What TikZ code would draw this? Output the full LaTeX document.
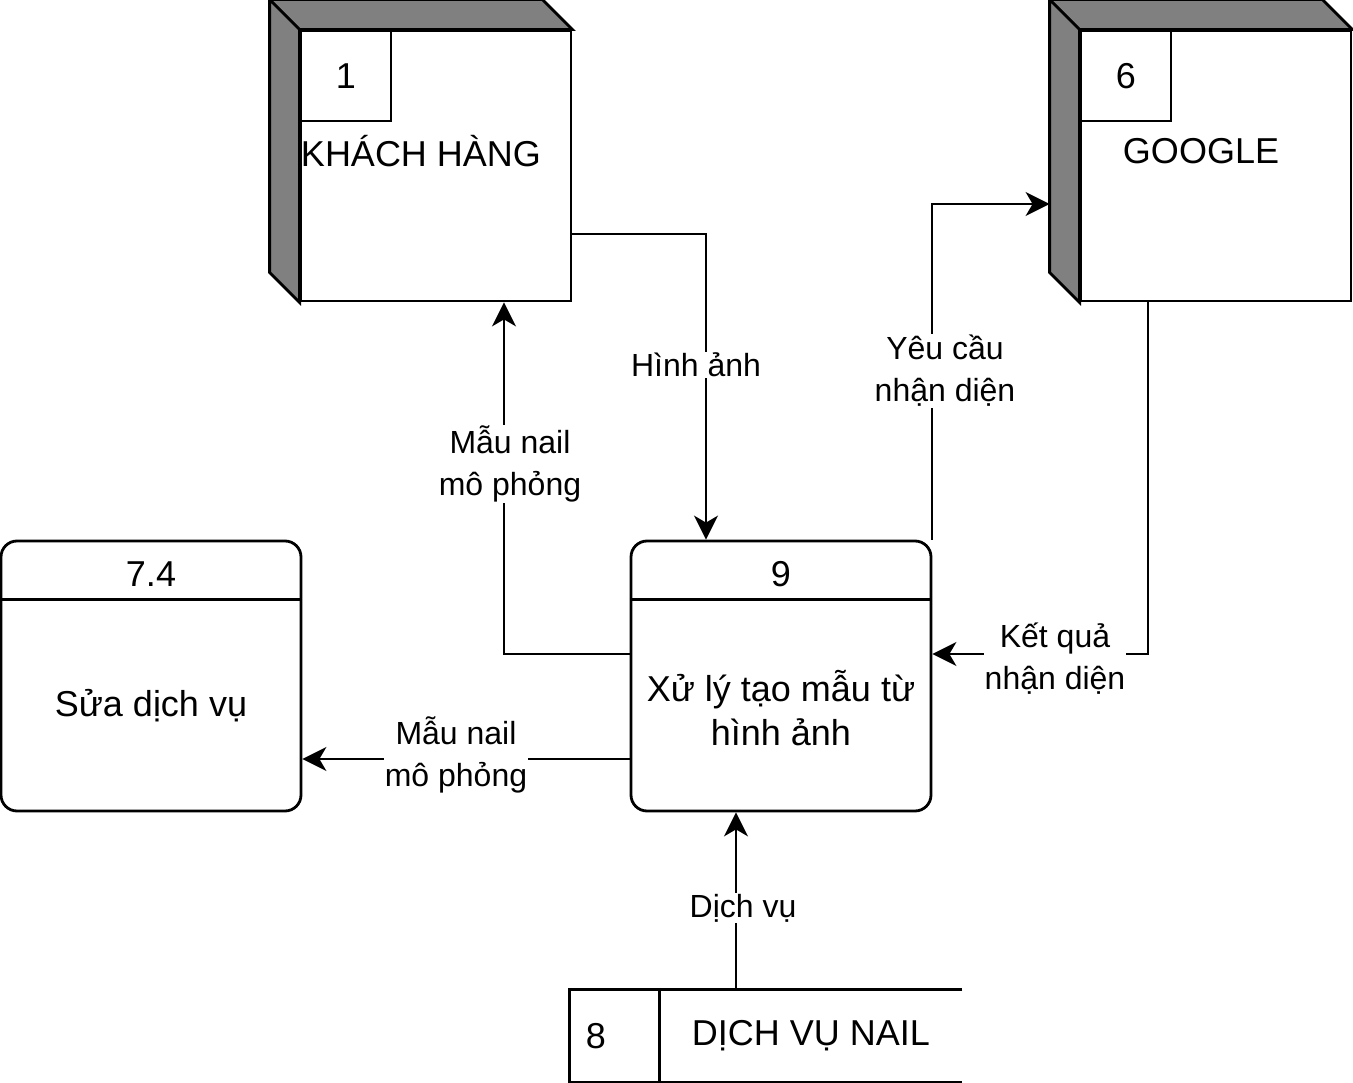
\documentclass[tikz,border=0pt]{standalone}
\usepackage{fontspec}
\setmainfont{Liberation Sans}
\usetikzlibrary{positioning,arrows.meta}
\begin{document}
\begin{tikzpicture}[x=1pt,y=-1pt,line width=2.8pt,
    big/.style={font=\fontsize{36}{44}\selectfont},
    entity/.style={draw,fill=white,minimum width=270pt,minimum height=270pt,inner sep=0pt},
    numbox/.style={draw,minimum size=90pt,inner sep=0pt,anchor=north west,big},
    proc/.style={draw,rounded corners=16pt,minimum width=300pt,minimum height=270pt,inner sep=0pt},
    lbl/.style={font=\fontsize{32}{42}\selectfont,align=center,fill=white,inner sep=1pt},
    flow/.style={line width=2pt,-{Stealth[length=24pt,width=24pt,inset=7pt]}}]
    \useasboundingbox (0,0) rectangle (1353,1083);
    % entities
    \node[entity] (kh) at (436,166) {};
    \draw[fill=gray] ([shift={(-30,-30)}]kh.north west) -- ([shift={(-30,-30)}]kh.north east) -- (kh.north east) -- (kh.north west) -- cycle;
    \draw[fill=gray] ([shift={(-30,-30)}]kh.north west) -- (kh.north west) -- (kh.south west) -- ([shift={(-30,-30)}]kh.south west) -- cycle;
    \node[numbox] (kh-no) at (kh.north west) {1};
    \node[big] (kh-name) at (421,151) {KHÁCH HÀNG};
    \node[entity] (gg) at (1216,166) {};
    \draw[fill=gray] ([shift={(-30,-30)}]gg.north west) -- ([shift={(-30,-30)}]gg.north east) -- (gg.north east) -- (gg.north west) -- cycle;
    \draw[fill=gray] ([shift={(-30,-30)}]gg.north west) -- (gg.north west) -- (gg.south west) -- ([shift={(-30,-30)}]gg.south west) -- cycle;
    \node[numbox] (gg-no) at (gg.north west) {6};
    \node[big] (gg-name) at (1201,151) {GOOGLE};
    % processes
    \node[proc] (p9) at (781,676) {};
    \draw ([shift={(0,60)}]p9.north west) -- ([shift={(0,60)}]p9.north east);
    \node[big] (p9-no) at (781,574) {9};
    \node[big,align=center] (p9-name) at (781,708) {Xử lý tạo mẫu từ\\hình ảnh};
    \node[proc] (p74) at (151,676) {};
    \draw ([shift={(0,60)}]p74.north west) -- ([shift={(0,60)}]p74.north east);
    \node[big] (p74-no) at (151,574) {7.4};
    \node[big] (p74-name) at (151,706) {Sửa dịch vụ};
    % data store
    \node[minimum width=390pt,minimum height=90pt,inner sep=0pt] (ds) at (766,1036) {};
    \draw (ds.north east) -- (ds.north west) -- (ds.south west) -- (ds.south east);
    \draw ([shift={(90,0)}]ds.north west) -- ([shift={(90,0)}]ds.south west);
    \node[big] (ds-no) at (596,1036) {8};
    \node[big] (ds-name) at (811,1036) {DỊCH VỤ NAIL};
    % flows
    \draw[flow] ([shift={(0,68)}]kh.east) -| ([shift={(-75,0)}]p9.north);
    \draw[flow] ([shift={(0,-22)}]p9.west) -| ([shift={(68,0)}]kh.south);
    \draw[flow] (p9.north east) |- ([shift={(-30,38)}]gg.west);
    \draw[flow] ([shift={(-68,0)}]gg.south) |- ([shift={(0,-22)}]p9.east);
    \draw[flow] ([shift={(0,83)}]p9.west) -- ([shift={(0,83)}]p74.east);
    \draw[flow] ([shift={(-45,0)}]p9.south |- ds.north) -- ([shift={(-45,0)}]p9.south);
    % labels
    \node[lbl] (l-anh) at (696,365) {Hình ảnh};
    \node[lbl] (l-mau1) at (510,464) {Mẫu nail\\mô phỏng};
    \node[lbl] (l-yc) at (945,371) {Yêu cầu\\nhận diện};
    \node[lbl] (l-kq) at (1055,659) {Kết quả\\nhận diện};
    \node[lbl] (l-mau2) at (456,755) {Mẫu nail\\mô phỏng};
    \node[lbl] (l-dv) at (743,908) {Dịch vụ};
\end{tikzpicture}
\end{document}
